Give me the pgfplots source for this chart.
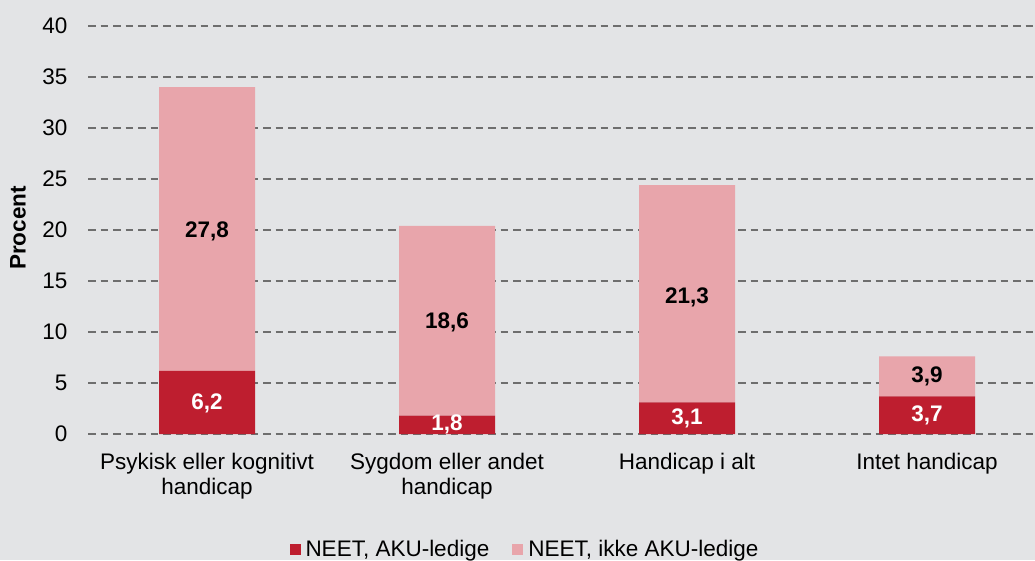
\documentclass[border=0pt]{standalone}
\usepackage{pgfplots}
\pgfplotsset{compat=1.18}
\usepackage{fontspec}
\setmainfont{Liberation Sans}
\definecolor{bgc}{HTML}{E3E4E6}
\definecolor{darkred}{HTML}{BE1E2F}
\definecolor{lightpink}{HTML}{E8A5AB}
\definecolor{gridc}{HTML}{6E6E6E}
\newcommand{\chartfont}{\fontsize{22.5pt}{25pt}\selectfont}
\begin{document}
\begin{tikzpicture}[font=\chartfont]
\fill[bgc] (-88pt,-126pt) rectangle (947pt,434pt);
\begin{axis}[
  scale only axis, width=947pt, height=408pt,
  xmin=-0.496, xmax=3.45, ymin=0, ymax=40,
  ybar stacked, bar width=96pt,
  axis line style={draw=none},
  xtick={0,1,2,3},
  xticklabels={{Psykisk eller kognitivt\\handicap},{Sygdom eller andet\\handicap},{Handicap i alt},{Intet handicap}},
  xticklabel style={align=center, font=\chartfont, yshift=-16pt},
  ytick={0,5,...,40},
  ymajorgrids,
  grid style={gridc, line width=1.5pt, dash pattern=on 7.5pt off 5pt},
  major tick length=0pt,
  yticklabel style={xshift=-17pt, font=\chartfont},
  /pgf/number format/assume math mode=true,
  every axis y label/.style={at={(axis description cs:0,0.505)}, rotate=90, anchor=center, yshift=70pt},
  ylabel={\textbf{Procent}},
  legend style={at={(0.463,-0.283)}, anchor=center, draw=none, fill=none, legend columns=2,
    /tikz/every even column/.style={column sep=18pt}, font=\chartfont,
    nodes={inner xsep=5pt}},
  legend image code/.code={\fill[#1] (0pt,-5.5pt) rectangle (11pt,5.5pt);},
]
\addplot[fill=darkred, draw=none] coordinates {(0,6.2) (1,1.8) (2,3.1) (3,3.7)};
\addlegendentry{NEET, AKU-ledige}
\addplot[fill=lightpink, draw=none] coordinates {(0,27.8) (1,18.6) (2,21.3) (3,3.9)};
\addlegendentry{NEET, ikke AKU-ledige}
\end{axis}
\begin{axis}[
  scale only axis, width=947pt, height=408pt,
  xmin=-0.496, xmax=3.45, ymin=0, ymax=40,
  hide axis,
]
\addplot[only marks, mark=none, nodes near coords, point meta=explicit symbolic,
  every node near coord/.style={anchor=center, text=white, font=\chartfont\bfseries}]
  table[meta=label] {
x y label
0 3.0 6,2
1 0.9 1,8
2 1.5 3,1
3 1.8 3,7
};
\addplot[only marks, mark=none, nodes near coords, point meta=explicit symbolic,
  every node near coord/.style={anchor=center, text=black, font=\chartfont\bfseries}]
  table[meta=label] {
x y label
0 19.9 27,8
1 10.9 18,6
2 13.4 21,3
3 5.6 3,9
};
\end{axis}
\pgfresetboundingbox
\path[use as bounding box] (-88pt,-126pt) rectangle (947pt,434pt);
\end{tikzpicture}
\end{document}
